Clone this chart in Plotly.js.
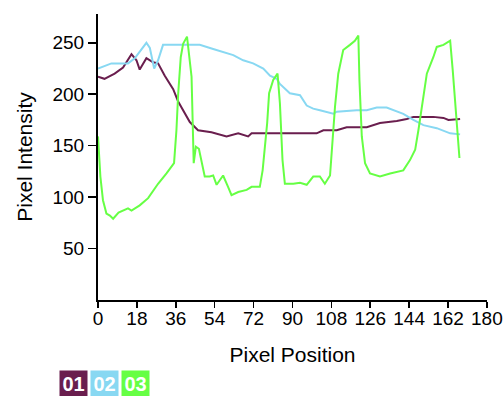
<!DOCTYPE html>
<html>
<head>
<meta charset="utf-8">
<script src="https://cdn.plot.ly/plotly-3.0.1.min.js"></script>
<style>
html,body{margin:0;padding:0;background:#fff;}
#chart{width:504px;height:396px;}
</style>
</head>
<body>
<div id="chart"></div>
<script>
// Series 01 (purple)
var x01 = [0,3,7.7,11.6,15.5,17.8,19.3,22.4,25.5,27.8,30.9,34.8,37.1,40.2,42.5,46.3,52.5,59.5,64.9,69.5,71.1,79.6,84.2,101.2,104.3,110.5,115.1,124.4,130.5,138.3,142.9,146,155.2,159.9,162.2,167.6];
var y01 = [217,215,220,226,239,233,224,235,231,230,218,205,193,182,173,165,163,159,162,159,162,162,162,162,165,165,168,168,172,174,176,178,178,177,175,176];

// Series 02 (light blue)
var x02 = [0,6.2,13.9,17,22.4,24,26,27.8,30.1,40.2,47.1,53.3,57.9,62.6,67.2,71.8,76.5,79.6,82.7,84.2,88.8,93.5,96.6,99.6,102.7,108.9,110.5,119.7,124.4,129,133.6,136.7,141.3,146,150.6,156.8,163,167.6];
var y02 = [225,230,230,235,250,245,225,233,248,248,248,244,241,238,233,230,225,218,215,210,201,199,189,186,184.5,181,183,184.5,184.5,187,187,184.5,181,175,170,167,162,161];

// Series 03 (green)
var x03 = [0,0.3,1.1,2.3,3.9,5.5,7,9.5,13.9,15.5,19.3,23.2,27.8,31.7,35.2,36.3,37.1,38.3,39.4,41.2,43.3,44.3,45.3,46.7,49.4,51.7,53.3,54.9,57.9,60.2,61.8,64.9,68.8,71.1,74.9,76.2,77.2,78.3,79.2,81.1,83.1,84.2,85.4,86.5,90.4,93.5,96.6,99.6,102.7,105,107.4,108.1,109.7,111.2,113.5,116.6,118.9,120.5,121,122.1,123.6,125.9,130.5,135.2,141.3,144.4,146.8,148.3,150.6,152.2,155.2,156.8,159.9,162.2,163,164.2,165.8,166.9,167.3];
var y03 = [159,144,120,97,84,82,79,85,89,87,92,99,113,123,133,165,200,236,249,256,217,133,149,147,120,120,121,112,121,110,102,105,107,110,110,126,149,172,201,214,220,191,136,113,113,114,112,120,120,113,121,142,188,220,243,248,252,257,214,159,133,123,120,123,126,136,146,165,197,220,236,246,248,251,252,223,175,146,138];

var names = ['01','02','03'];
var colors = ['#6a1e4e','#88d8f2','#66ff44'];
var xTicks = [0,18,36,54,72,90,108,126,144,162,180];
var yTicks = [50,100,150,200,250];

var tickFont = {family:'"Liberation Sans",Arial,sans-serif', size:19, color:'#000'};
var titleFont = {family:'"Liberation Sans",Arial,sans-serif', size:21, color:'#000'};

var traces = [[x01,y01],[x02,y02],[x03,y03]].map(function(d,i){
  return {x:d[0], y:d[1], type:'scatter', mode:'lines', name:names[i],
          line:{color:colors[i], width:2}, hoverinfo:'skip'};
});

var legendX = [-0.0617, 0.0167, 0.0964];
var annotations = names.map(function(n,i){
  return {text:'<b>'+n+'</b>', xref:'paper', yref:'paper', x:legendX[i], y:-0.2937,
          xanchor:'center', yanchor:'middle', showarrow:false,
          bgcolor:colors[i], width:27, height:26, borderpad:0,
          font:{family:'"Liberation Sans",Arial,sans-serif', size:20, color:'#fff'}};
});

var layout = {
  width:504, height:396,
  margin:{l:98, r:17, t:14, b:96, pad:0},
  paper_bgcolor:'#fff', plot_bgcolor:'#fff',
  showlegend:false,
  xaxis:{range:[0,180.05], tickvals:xTicks, ticktext:xTicks.map(String),
         showgrid:false, zeroline:false, showline:true, linecolor:'#000', linewidth:2,
         ticks:'outside', ticklen:6, tickwidth:1.5, tickcolor:'#000',
         tickfont:tickFont, ticklabeloverflow:'allow', ticklabelstandoff:-6,
         title:{text:'Pixel Position', font:titleFont, standoff:20}},
  yaxis:{range:[0,278], tickvals:yTicks, ticktext:yTicks.map(String),
         showgrid:false, zeroline:false, showline:true, linecolor:'#000', linewidth:2,
         ticks:'outside', ticklen:8, tickwidth:1.5, tickcolor:'#000',
         tickfont:tickFont,
         title:{text:'Pixel Intensity', font:titleFont, standoff:14}},
  annotations:annotations
};

Plotly.newPlot('chart', traces, layout, {displayModeBar:false, staticPlot:true});
</script>
</body>
</html>
